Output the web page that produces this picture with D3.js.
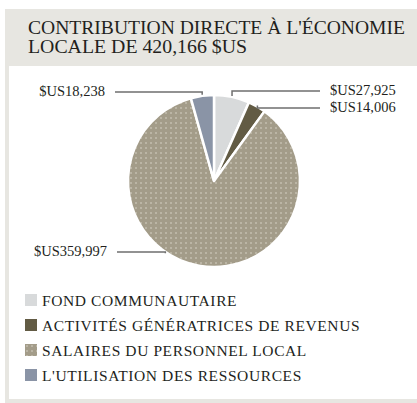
<!DOCTYPE html>
<html>
<head>
<meta charset="utf-8">
<script src="https://cdn.jsdelivr.net/npm/d3@7"></script>
<style>
  body { margin: 0; background: #fff; }
  svg { display: block; }
  text { font-family: "Liberation Serif", "DejaVu Serif", serif; fill: #231f1c; }
</style>
</head>
<body>
<div id="chart"></div>
<script>
// titre et données
var titreLignes = ["CONTRIBUTION DIRECTE À L'ÉCONOMIE", "LOCALE DE 420,166 $US"];
var categories = ["FOND COMMUNAUTAIRE", "ACTIVITÉS GÉNÉRATRICES DE REVENUS", "SALAIRES DU PERSONNEL LOCAL", "L'UTILISATION DES RESSOURCES"];
var montants = [27925, 14006, 359997, 18238];
var etiquettes = ["$US27,925", "$US14,006", "$US359,997", "$US18,238"];
var couleurs = ["#d8dadb", "#625b44", "#a39c89", "#8a94a6"];

var width = 417, height = 403;
var cx = 214, cy = 181, rayon = 86;

var svg = d3.select("#chart").append("svg")
    .attr("width", width)
    .attr("height", height);

// motif pointillé pour les salaires
var defs = svg.append("defs");
var motif = defs.append("pattern")
    .attr("id", "points")
    .attr("width", 5).attr("height", 5)
    .attr("patternUnits", "userSpaceOnUse");
motif.append("rect").attr("width", 5).attr("height", 5).attr("fill", couleurs[2]);
motif.append("rect").attr("x", 1).attr("y", 1).attr("width", 2).attr("height", 2).attr("fill", "#bbb5a5");

function remplissage(i) {
    return i === 2 ? "url(#points)" : couleurs[i];
}

// cadre gris + panneau blanc
svg.append("rect").attr("x", 5).attr("y", 9).attr("width", 412).attr("height", 394).attr("fill", "#e7e6e1");
svg.append("rect").attr("x", 9).attr("y", 66).attr("width", 408).attr("height", 333).attr("fill", "#fff");

// titre
var largeurs = [377, 219];
svg.selectAll(".titre")
    .data(titreLignes)
    .enter()
    .append("text")
    .attr("class", "titre")
    .attr("x", 28)
    .attr("y", function(d, i) { return 33.5 + i * 19.5; })
    .attr("font-size", 19)
    .attr("textLength", function(d, i) { return largeurs[i]; })
    .attr("lengthAdjust", "spacingAndGlyphs")
    .text(function(d) { return d; });

// camembert
var pie = d3.pie().sort(null).value(function(d) { return d; });
var arcs = pie(montants);
var arc = d3.arc().innerRadius(0).outerRadius(rayon);

var g = svg.append("g").attr("transform", "translate(" + cx + "," + cy + ")");
g.selectAll("path")
    .data(arcs)
    .enter()
    .append("path")
    .attr("d", arc)
    .attr("fill", function(d, i) { return remplissage(i); })
    .attr("stroke", "#fff")
    .attr("stroke-width", 2.5)
    .attr("stroke-linejoin", "round");

// lignes de rappel: y de la ligne, côté, angle forcé (null = milieu de la part)
var ligneY = [91, 108, 252, 92];
var cote = [1, 1, -1, -1];
var angleForce = [null, null, 214, null];
var finLigne = [320, 320, 117, 115];

etiquettes.forEach(function(txt, i) {
    var a = angleForce[i] !== null ? angleForce[i] * Math.PI / 180 : (arcs[i].startAngle + arcs[i].endAngle) / 2;
    var px = cx + Math.sin(a) * (rayon + 1);
    var py = cy - Math.cos(a) * (rayon + 1);
    var pts = [[px, py], [px, ligneY[i]], [finLigne[i], ligneY[i]]];
    svg.append("path")
        .attr("d", d3.line()(pts))
        .attr("fill", "none")
        .attr("stroke", "#6f6f6f")
        .attr("stroke-width", 1.5);
    svg.append("text")
        .attr("x", cote[i] > 0 ? 330 : (finLigne[i] - 10))
        .attr("y", ligneY[i] + 4)
        .attr("text-anchor", cote[i] > 0 ? "start" : "end")
        .attr("font-size", 14.5)
        .text(txt);
});

// légende
var legende = svg.selectAll(".leg")
    .data(categories)
    .enter()
    .append("g")
    .attr("class", "leg")
    .attr("transform", function(d, i) { return "translate(25," + (294 + i * 25) + ")"; });
legende.append("rect")
    .attr("width", 12).attr("height", 12)
    .attr("fill", function(d, i) { return remplissage(i); });
legende.append("text")
    .attr("x", 17)
    .attr("y", 11.5)
    .attr("font-size", 15.5)
    .attr("letter-spacing", 0.6)
    .text(function(d) { return d; });
</script>
</body>
</html>
